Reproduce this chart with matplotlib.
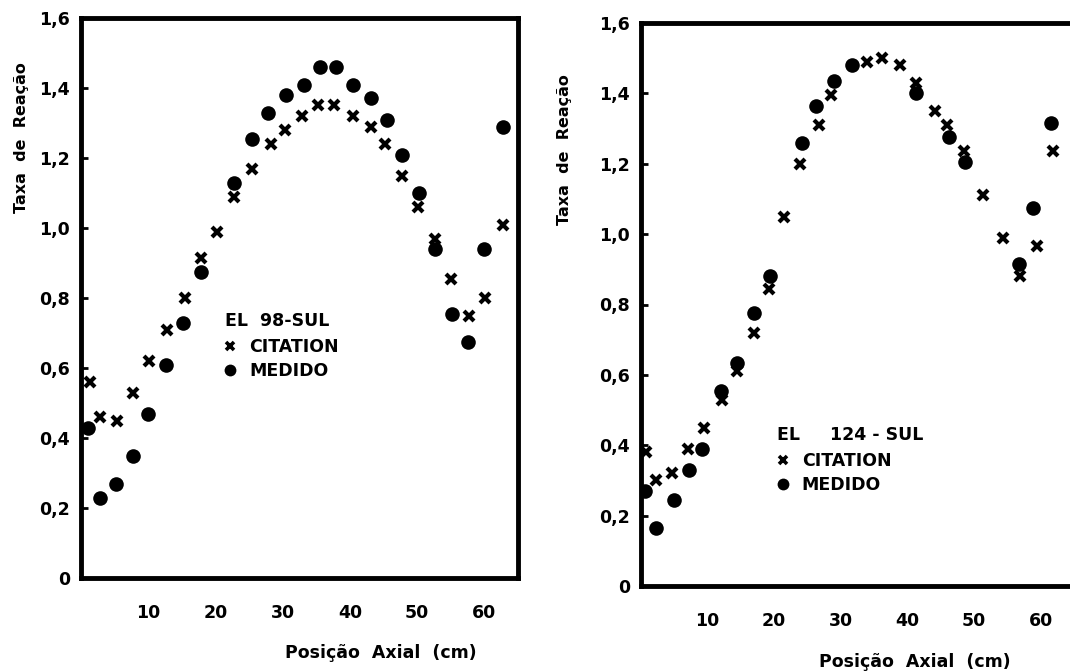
import matplotlib
matplotlib.use("Agg")
import matplotlib.pyplot as plt
from matplotlib.lines import Line2D

# ---------------- data ----------------
# Left panel: EL 98-SUL
left_cit_x = [1.3, 2.9, 5.4, 7.7, 10.1, 12.8, 15.5, 17.9, 20.3, 22.7, 25.4, 28.3, 30.4,
              32.8, 35.3, 37.7, 40.4, 43.1, 45.2, 47.7, 50.2, 52.7, 55.0, 57.7, 60.1, 62.7]
left_cit_y = [0.56, 0.46, 0.45, 0.53, 0.62, 0.71, 0.80, 0.915, 0.99, 1.09, 1.17, 1.24, 1.28,
              1.32, 1.35, 1.35, 1.32, 1.29, 1.24, 1.15, 1.06, 0.97, 0.855, 0.75, 0.80, 1.01]
left_med_x = [1.0, 2.8, 5.2, 7.8, 9.9, 12.7, 15.1, 17.8, 22.8, 25.4, 27.8, 30.5, 33.1,
              35.6, 37.9, 40.4, 43.1, 45.5, 47.8, 50.3, 52.7, 55.2, 57.5, 59.9, 62.8]
left_med_y = [0.43, 0.23, 0.27, 0.35, 0.47, 0.61, 0.73, 0.875, 1.13, 1.255, 1.33, 1.38, 1.41,
              1.46, 1.46, 1.41, 1.37, 1.31, 1.21, 1.10, 0.94, 0.755, 0.675, 0.94, 1.29]

# Right panel: EL 124-SUL
right_cit_x = [0.8, 2.2, 4.7, 7.1, 9.4, 12.2, 14.4, 16.9, 19.2, 21.5, 23.8, 26.7, 28.5,
               33.9, 36.2, 38.9, 41.3, 44.1, 45.9, 48.5, 51.4, 54.3, 56.9, 59.4, 61.9]
right_cit_y = [0.38, 0.30, 0.32, 0.39, 0.45, 0.53, 0.61, 0.72, 0.845, 1.05, 1.20, 1.31, 1.395,
               1.49, 1.50, 1.48, 1.43, 1.35, 1.31, 1.235, 1.11, 0.99, 0.88, 0.965, 1.235]
right_med_x = [0.6, 2.2, 4.9, 7.2, 9.2, 12.0, 14.4, 17.0, 19.3, 24.2, 26.3, 28.9, 31.6,
               41.3, 46.2, 48.7, 56.8, 58.9, 61.5]
right_med_y = [0.27, 0.165, 0.245, 0.33, 0.39, 0.555, 0.635, 0.775, 0.88, 1.26, 1.365, 1.435, 1.48,
               1.40, 1.275, 1.205, 0.915, 1.075, 1.315]

x_ticks = [10, 20, 30, 40, 50, 60]
x_tick_labels = ["10", "20", "30", "40", "50", "60"]
y_ticks = [0, 0.2, 0.4, 0.6, 0.8, 1.0, 1.2, 1.4, 1.6]
y_tick_labels = ["0", "0,2", "0,4", "0,6", "0,8", "1,0", "1,2", "1,4", "1,6"]

titles = ["EL  98-SUL", "EL     124 - SUL"]
series_names = ["CITATION", "MEDIDO"]
y_label = "Taxa  de  Reação"
x_label = "Posição  Axial  (cm)"

# ---------------- figure ----------------
W, H = 1070, 672
fig = plt.figure(figsize=(W / 100, H / 100), dpi=100)
fig.patch.set_facecolor("white")


def box(x0, y0, x1, y1):
    return [x0 / W, 1 - y1 / H, (x1 - x0) / W, (y1 - y0) / H]


axL = fig.add_axes(box(81, 18, 518, 578))
axR = fig.add_axes(box(641, 23, 641 + 433, 586))

panels = [
    (axL, left_cit_x, left_cit_y, left_med_x, left_med_y, titles[0], (0.33, 0.475)),
    (axR, right_cit_x, right_cit_y, right_med_x, right_med_y, titles[1], (0.315, 0.285)),
]

for ax, cx, cy, mx, my, title, lpos in panels:
    ax.plot(mx, my, linestyle="none", marker="o", ms=10.5, color="black",
            markeredgewidth=0)
    ax.plot(cx, cy, linestyle="none", marker="x", ms=7, color="black",
            markeredgewidth=3.0)
    ax.set_xlim(0, 65)
    ax.set_ylim(0, 1.6)
    for s in ax.spines.values():
        s.set_linewidth(3.5)
        s.set_color("black")
    ax.set_xticks(x_ticks)
    ax.set_xticklabels(x_tick_labels, fontsize=12.5, fontweight="bold")
    ax.set_yticks(y_ticks)
    ax.set_yticklabels(y_tick_labels, fontsize=12.5, fontweight="bold")
    ax.tick_params(axis="x", length=0, pad=19)
    ax.tick_params(axis="y", direction="in", length=5, width=2, pad=8)

    handles = [
        Line2D([], [], linestyle="none", marker="x", ms=6, mew=2.6, color="black"),
        Line2D([], [], linestyle="none", marker="o", ms=8.5, mew=0, color="black"),
    ]
    leg = ax.legend(handles, series_names, loc="upper left", bbox_to_anchor=lpos,
                    frameon=False, borderpad=0, handlelength=0.6, handletextpad=0.8,
                    labelspacing=0.35, borderaxespad=0, title=title,
                    alignment="left",
                    prop={"weight": "bold", "size": 12.5},
                    title_fontproperties={"weight": "bold", "size": 12.5})
    leg._legend_box.sep = 6

# axis labels
fig.text(22 / W, 1 - 138 / H, y_label, rotation=90, ha="center", va="center",
         fontsize=11.5, fontweight="bold")
fig.text(565 / W, 1 - 150 / H, y_label, rotation=90, ha="center", va="center",
         fontsize=11.5, fontweight="bold")
fig.text(381 / W, 1 - 653 / H, x_label, ha="center", va="center",
         fontsize=12.5, fontweight="bold")
fig.text(915 / W, 1 - 662 / H, x_label, ha="center", va="center",
         fontsize=12.5, fontweight="bold")

fig.savefig("out.png", dpi=100, facecolor="white")
